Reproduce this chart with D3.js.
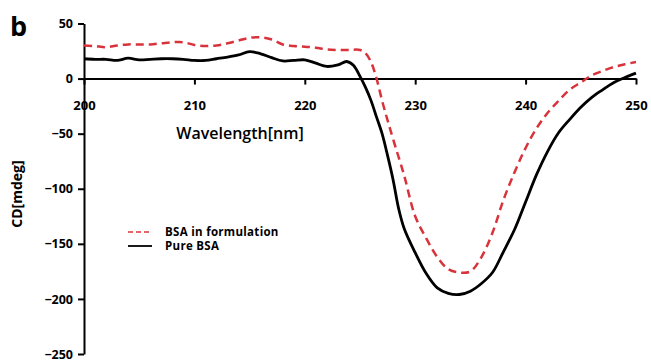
<!DOCTYPE html>
<html>
<head>
<meta charset="utf-8">
<script src="https://cdn.jsdelivr.net/npm/d3@7"></script>
<style>
  body { margin: 0; background: #fff; }
  text { font-family: "Open Sans", sans-serif; }
</style>
</head>
<body>
<svg id="chart" width="651" height="363"></svg>
<script>
// BSA in formulation (red dashed)
var formWl = [200,201,202,203,204,205,206,207,208,209,210,211,212,213,214,215,216,217,218,219,220,221,222,223,224,225,225.5,226,226.5,227,227.5,228,229,230,231,232,233,234,235,236,237,238,239,240,241,242,243,244,245,246,247,248,249,250];
var formCD = [30,29.5,28.5,30,31,31,31,32,33,33,30.5,29.5,30,32,34.5,37,37.5,35.5,31,29.5,29,28,26.5,26,26,26,23,15,0,-20,-38,-55,-88,-125,-145,-162,-173,-176,-175,-162,-140,-110,-85,-63,-45,-31,-20,-10,-3.5,3,7,10.5,13,15];

// Pure BSA (black solid)
var pureWl = [200,201,202,203,204,205,206,207,208,209,210,211,212,213,214,215,216,217,218,219,220,221,222,223,223.8,224.4,225,225.5,226,226.5,227,227.5,228,228.5,229,230,231,232,233,234,235,236,237,238,239,240,241,242,243,244,245,246,247,248,249,250];
var pureCD = [18,17.5,17.5,16.5,18.5,17,17.5,18,18,17.5,16.5,16.5,18,19.5,21.5,24.5,22.5,19,16,16.5,17,14,11,12.5,15.5,12,2,-8,-20,-35,-50,-70,-92,-118,-136,-158,-177,-190,-195,-196,-193,-186,-176,-157,-137,-112,-87,-66,-49,-37,-26,-17,-10,-3.5,1,5];

var xTicks = [200,210,220,230,240,250];
var yTicks = [50,0,-50,-100,-150,-200,-250];
var legendLabels = ["BSA in formulation", "Pure BSA"];

var svg = d3.select("#chart");

var x = d3.scaleLinear().domain([200, 250]).range([84, 636]);
var y = d3.scaleLinear().domain([-250, 50]).range([354, 23.5]);

// panel letter
svg.append("text").attr("x", 10).attr("y", 36)
  .style("font-size", "27px").style("font-weight", "bold").text("b");

// y axis
var yAxis = svg.append("g").attr("transform", "translate(" + x(200) + ",0)")
  .call(d3.axisLeft(y).tickValues(yTicks).tickSize(6).tickSizeOuter(0).tickPadding(5));
yAxis.selectAll("text").style("font-size", "12.5px").style("font-weight", "bold").attr("dy", "0.33em");
yAxis.selectAll("line, path").attr("stroke", "#000").attr("stroke-width", 2);

// x axis along zero
var xAxis = svg.append("g").attr("transform", "translate(0," + y(0) + ")")
  .call(d3.axisBottom(x).tickValues(xTicks).tickSize(6).tickSizeOuter(0).tickPadding(16));
xAxis.selectAll("text").style("font-size", "13px").style("font-weight", "bold");
xAxis.selectAll("line, path").attr("stroke", "#000").attr("stroke-width", 2);

// axis titles
svg.append("text").attr("x", 240).attr("y", 139).attr("text-anchor", "middle")
  .style("font-size", "16px").style("font-weight", "600").text("Wavelength[nm]");
svg.append("text").attr("transform", "translate(22,194) rotate(-90)").attr("text-anchor", "middle")
  .style("font-size", "14px").style("font-weight", "bold").text("CD[mdeg]");

var line = d3.line().curve(d3.curveCatmullRom)
  .x(function(d) { return x(d[0]); })
  .y(function(d) { return y(d[1]); });

svg.append("path").datum(d3.zip(formWl, formCD))
  .attr("fill", "none").attr("stroke", "#d8333b").attr("stroke-width", 2.5)
  .attr("stroke-dasharray", "8,5").attr("d", line);

svg.append("path").datum(d3.zip(pureWl, pureCD))
  .attr("fill", "none").attr("stroke", "#000").attr("stroke-width", 2.8)
  .attr("d", line);

// legend
var legend = svg.append("g").attr("transform", "translate(128,232)");
legend.append("line").attr("x1", 0).attr("x2", 24).attr("y1", 0).attr("y2", 0)
  .attr("stroke", "#d8333b").attr("stroke-width", 1.3).attr("stroke-dasharray", "5,3");
legend.append("line").attr("x1", 0).attr("x2", 24).attr("y1", 14).attr("y2", 14)
  .attr("stroke", "#000").attr("stroke-width", 1.8);
legend.selectAll("text.lab").data(legendLabels).enter().append("text")
  .attr("x", 37).attr("y", function(d, i) { return i * 14; }).attr("dy", "0.35em")
  .style("font-size", "11.5px").style("font-weight", "bold").style("letter-spacing", "0.3px")
  .text(function(d) { return d; });
</script>
</body>
</html>
